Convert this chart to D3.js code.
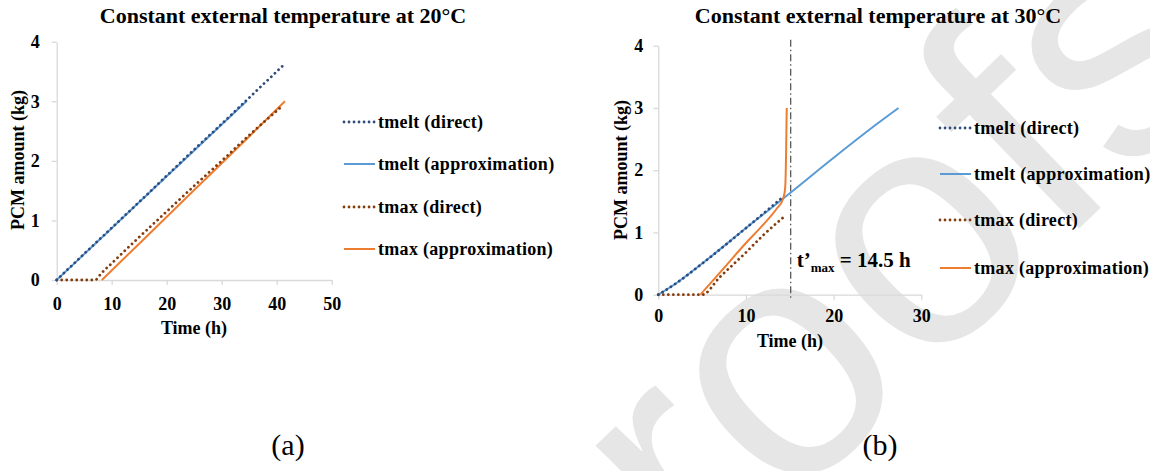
<!DOCTYPE html>
<html>
<head>
<meta charset="utf-8">
<script src="https://cdn.jsdelivr.net/npm/d3@7"></script>
<style>
  html, body { margin: 0; padding: 0; background: #ffffff; }
  svg { display: block; }
</style>
</head>
<body>
<svg id="chart" width="1150" height="471"></svg>
<script>
// ---------- DATA ----------
const pcmTicks = [0, 1, 2, 3, 4];
const timeTicksA = [0, 10, 20, 30, 40, 50];
const timeTicksB = [0, 10, 20, 30];
const seriesNames = ["tmelt (direct)", "tmelt (approximation)", "tmax (direct)", "tmax (approximation)"];
const titles = ["Constant external temperature at 20°C", "Constant external temperature at 30°C"];
const panelLabels = ["(a)", "(b)"];

// Panel (a) – 20 °C
const aTmeltDirectT = [0, 5, 10, 15, 20, 25, 30, 35, 41.5];
const aTmeltDirectV = [0, 0.44, 0.875, 1.31, 1.75, 2.19, 2.62, 3.06, 3.63];
const aTmeltApproxT = [0, 10, 20, 30, 34.5];
const aTmeltApproxV = [0, 0.87, 1.74, 2.61, 3.0];
const aTmaxDirectT = [0, 7, 8, 10, 15, 20, 25, 30, 35, 41];
const aTmaxDirectV = [0, 0, 0.1, 0.28, 0.72, 1.15, 1.58, 2.0, 2.43, 2.92];
const aTmaxApproxT = [8.2, 15, 25, 35, 41.5];
const aTmaxApproxV = [0, 0.61, 1.51, 2.41, 3.0];

// Panel (b) – 30 °C
const bTmeltDirectT = [0, 2, 5, 10, 14.3];
const bTmeltDirectV = [0, 0.18, 0.5, 1.07, 1.58];
const bTmeltApproxT = [0, 2, 5, 10, 15, 20, 25, 27.4];
const bTmeltApproxV = [0, 0.18, 0.5, 1.07, 1.63, 2.2, 2.75, 3.0];
const bTmaxDirectT = [0, 5, 7, 10, 12, 14.5];
const bTmaxDirectV = [0, 0, 0.28, 0.68, 0.96, 1.27];
const bTmaxApproxT = [4.8, 7, 10, 12, 13.5, 14.2, 14.45, 14.55, 14.6, 14.65];
const bTmaxApproxV = [0, 0.35, 0.83, 1.13, 1.38, 1.53, 1.68, 2.05, 2.5, 3.0];
const bTmaxLine = 15.1;
const bAnnotation = { main: "t’", sub: "max", rest: " = 14.5 h" };

// ---------- STYLE ----------
const colors = ["#2f4b7c", "#5b9bd5", "#843c0c", "#ed7d31"];
const dotted = [true, false, true, false];
const axisColor = "#d9d9d9";
const FONT = '"Liberation Serif", "Times New Roman", Times, serif';

const svg = d3.select("#chart");
svg.append("rect").attr("width", 1150).attr("height", 471).attr("fill", "#fff");

// watermark
svg.append("text")
  .attr("transform", "translate(568,722) rotate(-44)")
  .style("font-family", '"Liberation Sans", Arial, sans-serif')
  .style("font-size", "340px")
  .attr("fill", "#e6e6e6")
  .text("proofs");

function zip(t, v) { return t.map((d, i) => ({ t: d, v: v[i] })); }

function txt(sel, size, bold) {
  return sel.style("font-family", FONT).style("font-size", size + "px")
    .style("font-weight", bold ? "bold" : "normal").attr("fill", "#000");
}

function panel(cfg) {
  const x = d3.scaleLinear().domain(cfg.xDomain).range([cfg.x0, cfg.x1]);
  const y = d3.scaleLinear().domain([0, 4]).range([cfg.y0, cfg.y1]);
  const g = svg.append("g");

  // axes
  const xa = g.append("g").attr("transform", `translate(0,${cfg.y0})`)
    .call(d3.axisBottom(x).tickValues(cfg.xTicks).tickFormat(d3.format("d"))
      .tickSize(5).tickPadding(cfg.xPad).tickSizeOuter(0));
  const ya = g.append("g").attr("transform", `translate(${cfg.x0},0)`)
    .call(d3.axisLeft(y).tickValues(pcmTicks).tickFormat(d3.format("d"))
      .tickSize(5).tickPadding(cfg.yPad).tickSizeOuter(0));
  [xa, ya].forEach(a => {
    a.select(".domain").attr("stroke", axisColor).attr("stroke-width", 1.3);
    a.selectAll(".tick line").attr("stroke", axisColor).attr("stroke-width", 1.3);
    txt(a.selectAll(".tick text"), 18, true);
  });

  const line = d3.line().x(d => x(d.t)).y(d => y(d.v)).curve(d3.curveMonotoneX);

  if (cfg.vline !== undefined) {
    g.append("line").attr("x1", x(cfg.vline)).attr("x2", x(cfg.vline))
      .attr("y1", cfg.y1 - 6).attr("y2", cfg.y0 + 6)
      .attr("stroke", "#595959").attr("stroke-width", 1.3)
      .attr("stroke-dasharray", "7,3,1.5,3");
  }

  // draw order: approximations then directs over them
  const order = [1, 3, 2, 0];
  order.forEach(i => {
    const s = cfg.series[i];
    const p = g.append("path").datum(zip(s[0], s[1]))
      .attr("d", line).attr("fill", "none").attr("stroke", colors[i]);
    if (dotted[i]) p.attr("stroke-width", 2.8).attr("stroke-linecap", "round").attr("stroke-dasharray", "0.01,5");
    else p.attr("stroke-width", 2);
  });

  // title
  txt(svg.append("text").attr("x", cfg.titleX).attr("y", 23).attr("text-anchor", "middle"), 22, true)
    .text(cfg.title);
  // axis titles
  txt(svg.append("text").attr("transform", `translate(${cfg.yLabX},${cfg.yLabY}) rotate(-90)`)
    .attr("text-anchor", "middle").attr("dominant-baseline", "central"), 18, true).text("PCM amount (kg)");
  txt(svg.append("text").attr("x", cfg.xLabX).attr("y", cfg.xLabY).attr("text-anchor", "middle")
    .attr("dominant-baseline", "central"), 18, true).text("Time (h)");

  // legend
  cfg.legendY.forEach((ly, i) => {
    const l = svg.append("line").attr("x1", cfg.legX).attr("x2", cfg.legX + 31)
      .attr("y1", ly).attr("y2", ly).attr("stroke", colors[i]);
    if (dotted[i]) l.attr("stroke-width", 2.8).attr("stroke-linecap", "round").attr("stroke-dasharray", "0.01,5");
    else l.attr("stroke-width", 2);
    txt(svg.append("text").attr("x", cfg.legX + 34).attr("y", ly).attr("dominant-baseline", "central"), 18, true)
      .style("letter-spacing", "0.3px")
      .text(seriesNames[i]);
  });

  // panel label
  txt(svg.append("text").attr("x", cfg.panelX).attr("y", 455).attr("text-anchor", "middle"), 30, false)
    .text(cfg.panelLabel);
  return { x, y, g };
}

panel({
  xDomain: [0, 50], x0: 56.7, x1: 331.7, y0: 280, y1: 41.7,
  xTicks: timeTicksA, xPad: 12, yPad: 12,
  series: [[aTmeltDirectT, aTmeltDirectV], [aTmeltApproxT, aTmeltApproxV],
           [aTmaxDirectT, aTmaxDirectV], [aTmaxApproxT, aTmaxApproxV]],
  title: titles[0], titleX: 283,
  yLabX: 18, yLabY: 160, xLabX: 194, xLabY: 328,
  legX: 344, legendY: [122, 164, 207, 249],
  panelX: 288, panelLabel: panelLabels[0]
});

const pb = panel({
  xDomain: [0, 30], x0: 658.3, x1: 921.3, y0: 294.7, y1: 45.7,
  xTicks: timeTicksB, xPad: 10, yPad: 10,
  series: [[bTmeltDirectT, bTmeltDirectV], [bTmeltApproxT, bTmeltApproxV],
           [bTmaxDirectT, bTmaxDirectV], [bTmaxApproxT, bTmaxApproxV]],
  vline: bTmaxLine,
  title: titles[1], titleX: 878,
  yLabX: 621, yLabY: 170, xLabX: 790, xLabY: 341,
  legX: 940, legendY: [128, 174, 220, 268],
  panelX: 880, panelLabel: panelLabels[1]
});

// annotation t'max
const ann = txt(svg.append("text").attr("x", pb.x(bTmaxLine) + 6).attr("y", 267), 21, true);
ann.append("tspan").text(bAnnotation.main);
ann.append("tspan").style("font-size", "13px").attr("dy", 5).text(bAnnotation.sub);
ann.append("tspan").attr("dy", -5).text(bAnnotation.rest);
</script>
</body>
</html>
